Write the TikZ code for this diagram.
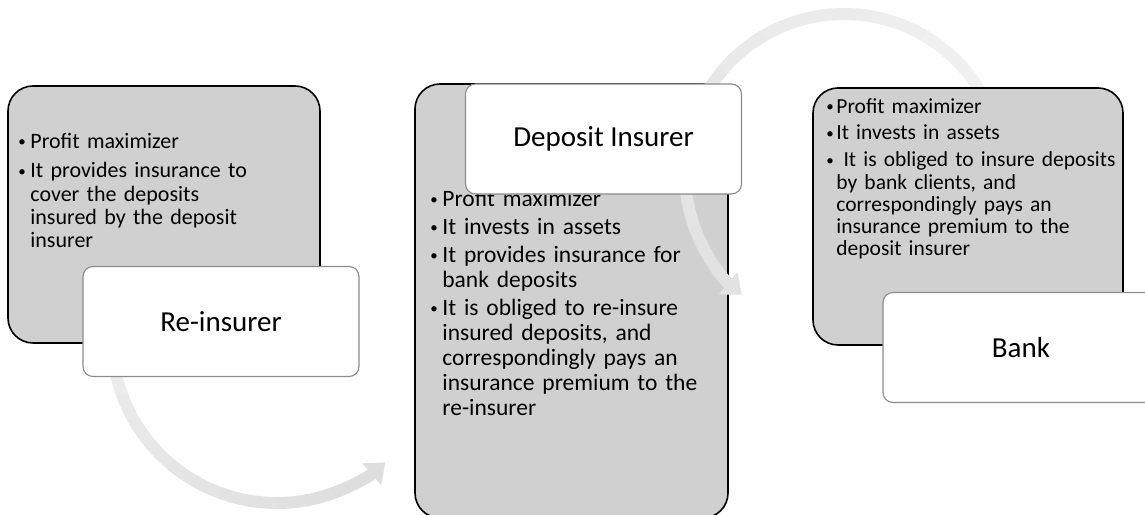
\documentclass[tikz,border=0pt]{standalone}
\usepackage{fontspec}
\setmainfont{Carlito}
\usetikzlibrary{arrows.meta}

% bullet item with hanging indent
\newlength{\bulw}
\newcommand{\bul}{\par\hangindent=\bulw\hangafter=1\noindent
  \makebox[\bulw][l]{\raisebox{1.5bp}{\fontsize{15bp}{15bp}\selectfont\textbullet}}}

\tikzset{
  greybox/.style={draw=black, line width=1.6bp, fill=gray!37, rounded corners=25bp, inner sep=0pt},
  labelbox/.style={draw=black!45, line width=1.1bp, fill=white, rounded corners=10bp, inner sep=0pt,
    minimum width=276bp, minimum height=110bp, font=\fontsize{29bp}{34bp}\selectfont},
  bullets/.style 2 args={anchor=north west, inner sep=0pt, align=left, text width=300bp,
    execute at begin node={\setlength{\parskip}{#1}\setlength{\bulw}{#2}}},
  flowarc/.style={line width=12bp},
}

\begin{document}
\begin{tikzpicture}[x=1bp, y=1bp]
\useasboundingbox (0,0) rectangle (1145,515);

% re-insurer
\node[greybox, minimum width=312bp, minimum height=257bp] (lgrey) at (164,300.5) {};
\node[bullets={6.5bp}{12bp}, font=\fontsize{22bp}{23.3bp}\selectfont] (ltext)
  at ([xshift=11bp, yshift=-33bp]lgrey.north west)
  {\bul Profit maximizer
   \bul It provides insurance to\newline cover the deposits\newline insured by the deposit\newline insurer\par};

\coordinate (lowc) at (277,177);
\foreach \k in {0,...,10}{
  \pgfmathsetmacro{\sa}{180+\k*10}
  \pgfmathsetmacro{\ea}{\sa+11}
  \pgfmathtruncatemacro{\tone}{15+\k}
  \draw[flowarc, draw=gray!\tone] (lowc) ++(\sa:165) arc[start angle=\sa, end angle=\ea, radius=165];
}
\draw[flowarc, draw=gray!26, -{Triangle[width=28bp, length=18bp]}]
  (lowc) ++(290:165) arc[start angle=290, end angle=311, radius=165];

\node[labelbox] (reins) at (221,193.5) {Re-insurer};

% deposit insurer
\node[greybox, minimum width=313bp, minimum height=434bp] (mgrey) at (571.5,214) {};
\node[bullets={3bp}{12bp}, font=\fontsize{23.5bp}{25bp}\selectfont] (mtext)
  at ([xshift=16bp, yshift=-95bp]mgrey.north west)
  {\bul Profit maximizer
   \bul It invests in assets
   \bul It provides insurance for\newline bank deposits
   \bul It is obliged to re-insure\newline insured deposits, and\newline correspondingly pays an\newline insurance premium to the\newline re-insurer\par};

\coordinate (topc) at (844,342);
\foreach \k in {0,...,9}{
  \pgfmathsetmacro{\sa}{\k*20}
  \pgfmathsetmacro{\ea}{\sa+21}
  \pgfmathtruncatemacro{\tone}{10+\k*1.3}
  \draw[flowarc, draw=gray!\tone] (topc) ++(\sa:159) arc[start angle=\sa, end angle=\ea, radius=159];
}
\draw[flowarc, draw=gray!23, -{Triangle[width=28bp, length=18bp]}]
  (topc) ++(200:159) arc[start angle=200, end angle=230, radius=159];

\node[labelbox] (dins) at (603.5,376) {Deposit Insurer};

% bank
\node[greybox, minimum width=310bp, minimum height=257bp] (rgrey) at (968,298.5) {};
\node[bullets={4.5bp}{10bp}, font=\fontsize{21.5bp}{22.3bp}\selectfont] (rtext)
  at ([xshift=14bp, yshift=1bp]rgrey.north west)
  {\bul Profit maximizer
   \bul It invests in assets
   \bul\ It is obliged to insure deposits\newline by bank clients, and\newline correspondingly pays an\newline insurance premium to the\newline deposit insurer\par};

\node[labelbox] (bank) at (1021,167.5) {Bank};
\end{tikzpicture}
\end{document}
